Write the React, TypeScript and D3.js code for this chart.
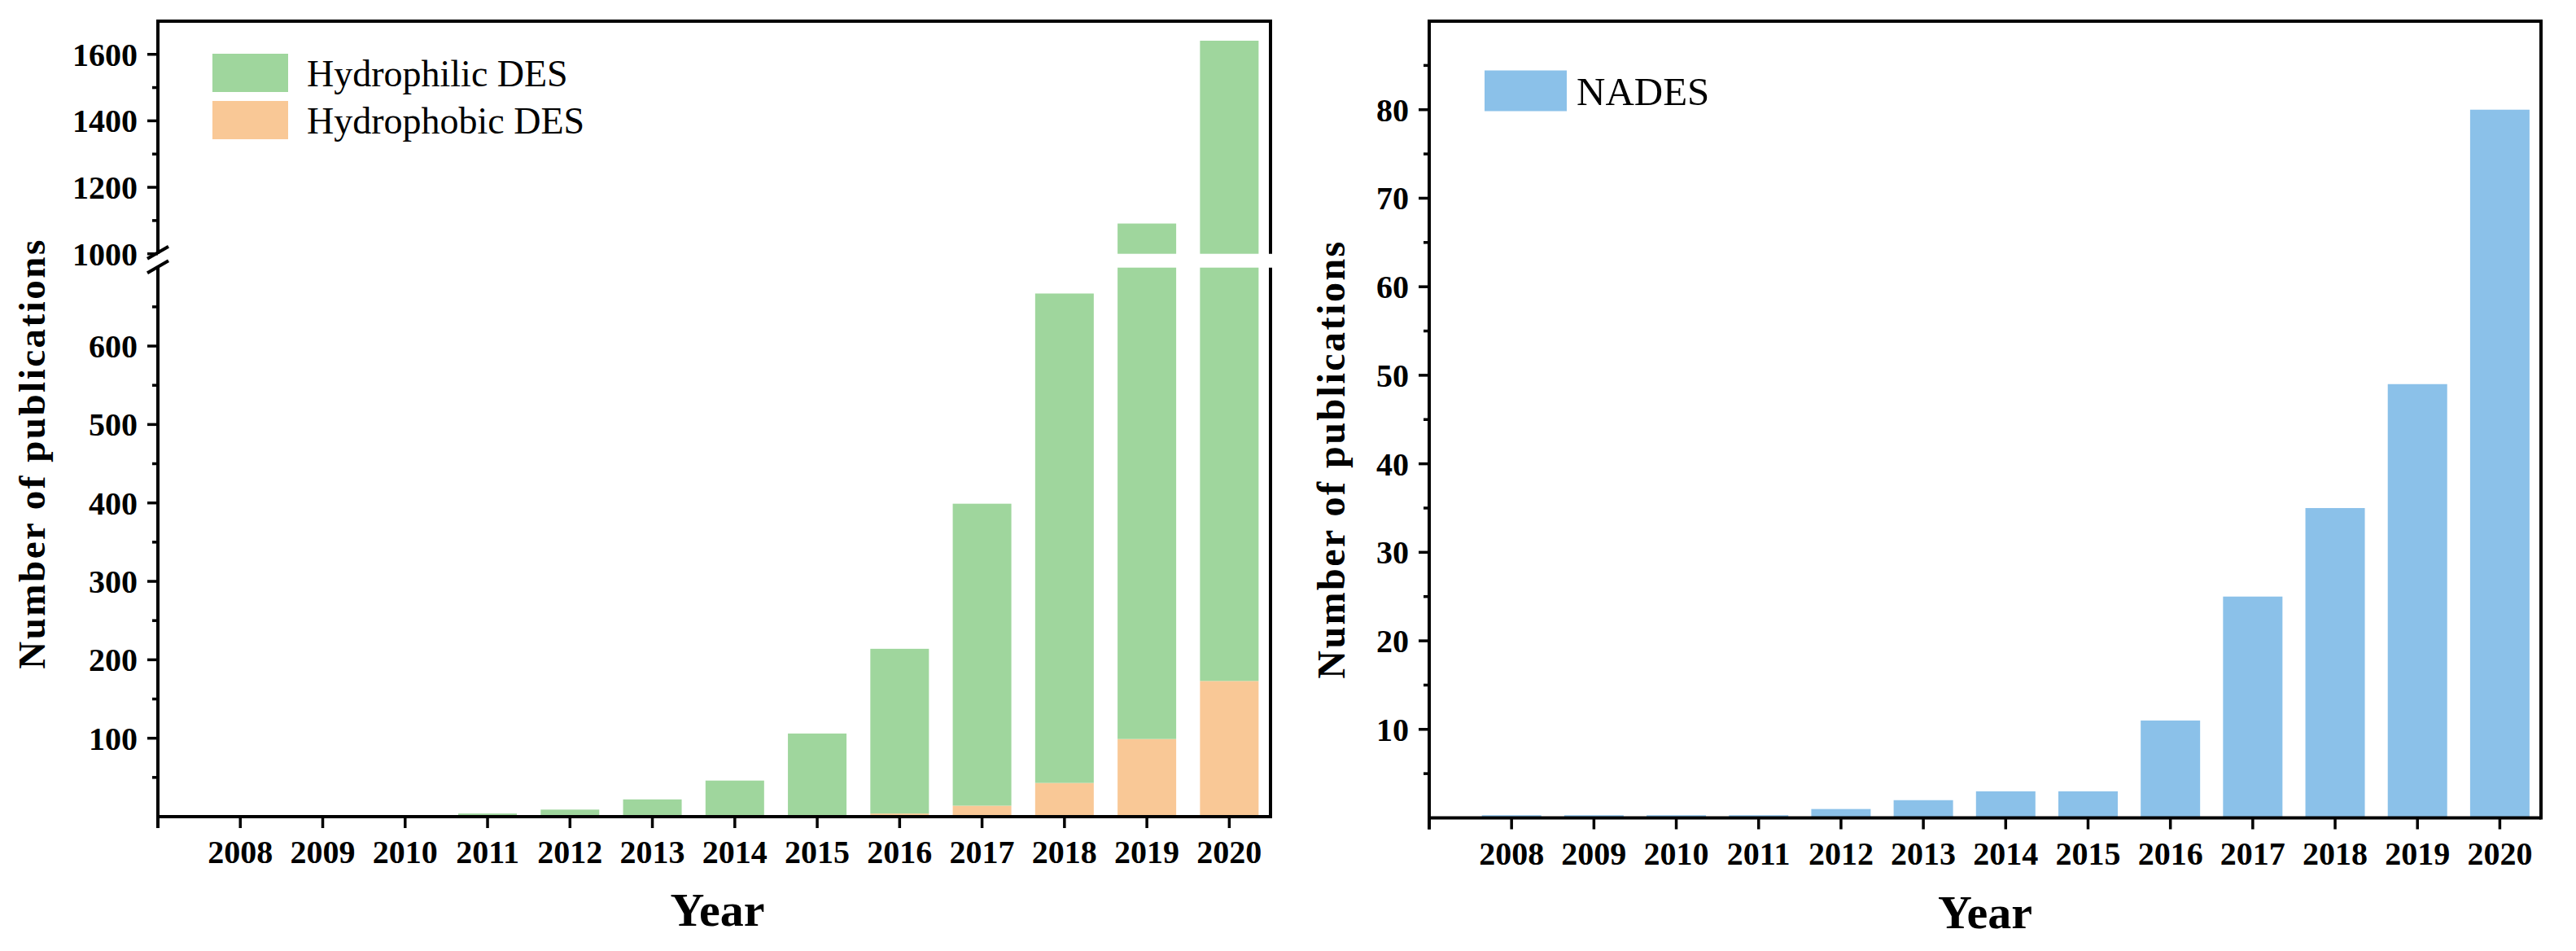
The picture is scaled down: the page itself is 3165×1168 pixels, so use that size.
import React, { useMemo } from "react";
import * as d3 from "d3";

// data
const YEARS = [2008, 2009, 2010, 2011, 2012, 2013, 2014, 2015, 2016, 2017, 2018, 2019, 2020];
const HYDROPHILIC = [0, 0, 0, 4, 9, 22, 46, 106, 210, 385, 624, 992, 1468];
const HYDROPHOBIC = [0, 0, 0, 0, 0, 0, 0, 0, 4, 14, 43, 99, 173];
const NADES = [0.3, 0.3, 0.3, 0.3, 1, 2, 3, 3, 11, 25, 35, 49, 80];

const LEFT_TICKS_LOW = [100, 200, 300, 400, 500, 600];
const LEFT_TICKS_HIGH = [1000, 1200, 1400, 1600];
const LEFT_MINOR_LOW = [50, 150, 250, 350, 450, 550, 650];
const LEFT_MINOR_HIGH = [1100, 1300, 1500];
const RIGHT_TICKS = [10, 20, 30, 40, 50, 60, 70, 80];
const RIGHT_MINOR = [5, 15, 25, 35, 45, 55, 65, 75, 85];

const LEGEND_LEFT = ["Hydrophilic DES", "Hydrophobic DES"];
const LEGEND_RIGHT = ["NADES"];

const W = 3165;
const H = 1168;
const FONT = "'Liberation Serif', 'Times New Roman', serif";
const GREEN = "#9fd69d";
const ORANGE = "#f9c896";
const BLUE = "#8bc1e9";
const AXIS_W = 4;
const BAR_W = 72;
const MAJOR = 13;
const MINOR = 7;
const XTICK = 14;

export default function App() {
  const xLeft = useMemo(
    () => d3.scaleLinear().domain([2007, 2020.5]).range([194, 1561]),
    []
  );
  const xRight = useMemo(
    () => d3.scaleLinear().domain([2007, 2020.5]).range([1756, 3122]),
    []
  );
  // broken y axis on the left chart
  const yLow = useMemo(
    () => d3.scaleLinear().domain([0, 700]).range([1003, 328.7]),
    []
  );
  const yHigh = useMemo(
    () => d3.scaleLinear().domain([1000, 1700]).range([311.7, 25.9]),
    []
  );
  const yRight = useMemo(
    () => d3.scaleLinear().domain([0, 90]).range([1004.5, 26]),
    []
  );

  const rows = YEARS.map((year, i) => ({
    year,
    hydrophobic: HYDROPHOBIC[i],
    hydrophilic: HYDROPHILIC[i],
  }));
  const stacked = d3
    .stack<(typeof rows)[number]>()
    .keys(["hydrophobic", "hydrophilic"])(rows);

  const pieces: { x: number; y: number; h: number; fill: string; key: string }[] = [];
  stacked.forEach((s) => {
    const fill = s.key === "hydrophobic" ? ORANGE : GREEN;
    s.forEach((d) => {
      const [v0, v1] = d;
      const cx = xLeft(d.data.year);
      const lo = Math.max(v0, 0);
      const hi = Math.min(v1, 700);
      if (hi > lo)
        pieces.push({ x: cx, y: yLow(hi), h: yLow(lo) - yLow(hi), fill, key: `${s.key}-l-${d.data.year}` });
      const lo2 = Math.max(v0, 1000);
      const hi2 = Math.min(v1, 1700);
      if (hi2 > lo2)
        pieces.push({ x: cx, y: yHigh(hi2), h: yHigh(lo2) - yHigh(hi2), fill, key: `${s.key}-h-${d.data.year}` });
    });
  });

  const [lx0, lx1] = xLeft.range();
  const [rx0, rx1] = xRight.range();
  const lBottom = yLow(0);
  const lTop = yHigh(1700);
  const rBottom = yRight(0);
  const rTop = yRight(90);
  const breakHi = yHigh(1000);
  const breakLo = yLow(700);

  const tickLabel = {
    fontFamily: FONT,
    fontWeight: 700,
    fontSize: 40,
    fill: "#000",
  } as const;

  const yTicks = (x0: number, y: (v: number) => number, major: number[], minor: number[]) => (
    <g>
      {major.map((v) => (
        <g key={`M${v}`}>
          <line x1={x0 - MAJOR} x2={x0} y1={y(v)} y2={y(v)} stroke="#000" strokeWidth={3.5} />
          <text x={x0 - MAJOR - 12} y={y(v)} dy="0.35em" textAnchor="end" {...tickLabel}>
            {v}
          </text>
        </g>
      ))}
      {minor.map((v) => (
        <line key={`m${v}`} x1={x0 - MINOR} x2={x0} y1={y(v)} y2={y(v)} stroke="#000" strokeWidth={3.5} />
      ))}
    </g>
  );

  const xTicks = (x: d3.ScaleLinear<number, number>, y0: number) => (
    <g>
      {[2007, ...YEARS].map((yr) => (
        <line key={yr} x1={x(yr)} x2={x(yr)} y1={y0} y2={y0 + XTICK} stroke="#000" strokeWidth={3.5} />
      ))}
      {YEARS.map((yr) => (
        <text key={`t${yr}`} x={x(yr)} y={y0 + 57} textAnchor="middle" {...tickLabel}>
          {yr}
        </text>
      ))}
    </g>
  );

  const slash = (cx: number, cy: number) => (
    <line x1={cx - 13} y1={cy + 7.5} x2={cx + 13} y2={cy - 7.5} stroke="#000" strokeWidth={4} />
  );

  return (
    <svg
      width={W}
      height={H}
      style={{ position: "absolute", left: 0, top: 0, background: "#fff" }}
    >
      {/* ---------- left chart: DES ---------- */}
      <g>
        {pieces.map((p) => (
          <rect key={p.key} x={p.x - BAR_W / 2} y={p.y} width={BAR_W} height={p.h} fill={p.fill} />
        ))}

        {/* frame with break */}
        <line x1={lx0} x2={lx1} y1={lTop} y2={lTop} stroke="#000" strokeWidth={AXIS_W} />
        <line x1={lx0} x2={lx0} y1={lTop - 2} y2={breakHi} stroke="#000" strokeWidth={AXIS_W} />
        <line x1={lx0} x2={lx0} y1={breakLo} y2={lBottom + XTICK} stroke="#000" strokeWidth={AXIS_W} />
        <line x1={lx1} x2={lx1} y1={lTop - 2} y2={breakHi} stroke="#000" strokeWidth={AXIS_W} />
        <line x1={lx1} x2={lx1} y1={breakLo} y2={lBottom + 2} stroke="#000" strokeWidth={AXIS_W} />
        <line x1={lx0} x2={lx1} y1={lBottom} y2={lBottom} stroke="#000" strokeWidth={AXIS_W} />
        {slash(lx0, breakHi - 1.5)}
        {slash(lx0, breakLo - 1)}

        {yTicks(lx0, yLow, LEFT_TICKS_LOW, LEFT_MINOR_LOW)}
        {yTicks(lx0, yHigh, LEFT_TICKS_HIGH, LEFT_MINOR_HIGH)}
        {xTicks(xLeft, lBottom)}

        {/* legend */}
        {LEGEND_LEFT.map((name, i) => (
          <g key={name} transform={`translate(261, ${66 + i * 58})`}>
            <rect width={93} height={47} fill={i === 0 ? GREEN : ORANGE} />
            <text x={116} y={23.5} dy="0.35em" fontFamily={FONT} fontSize={46} fill="#000">
              {name}
            </text>
          </g>
        ))}

        <text x={(lx0 + lx1) / 2 + 4} y={1137} textAnchor="middle" fontFamily={FONT} fontWeight={700} fontSize={58}>
          Year
        </text>
        <text
          transform="translate(55, 557) rotate(-90)"
          textAnchor="middle"
          fontFamily={FONT}
          fontWeight={700}
          fontSize={47}
          letterSpacing={2.5}
        >
          Number of publications
        </text>
      </g>

      {/* ---------- right chart: NADES ---------- */}
      <g>
        {YEARS.map((yr, i) => (
          <rect
            key={yr}
            x={xRight(yr) - 36.5}
            y={yRight(NADES[i])}
            width={73}
            height={rBottom - yRight(NADES[i])}
            fill={BLUE}
          />
        ))}

        <line x1={rx0} x2={rx1} y1={rTop} y2={rTop} stroke="#000" strokeWidth={AXIS_W} />
        <line x1={rx0} x2={rx0} y1={rTop - 2} y2={rBottom + XTICK} stroke="#000" strokeWidth={AXIS_W} />
        <line x1={rx1} x2={rx1} y1={rTop - 2} y2={rBottom + 2} stroke="#000" strokeWidth={AXIS_W} />
        <line x1={rx0} x2={rx1} y1={rBottom} y2={rBottom} stroke="#000" strokeWidth={AXIS_W} />

        {yTicks(rx0, yRight, RIGHT_TICKS, RIGHT_MINOR)}
        {xTicks(xRight, rBottom)}

        {LEGEND_RIGHT.map((name) => (
          <g key={name} transform="translate(1824, 86.5)">
            <rect width={101} height={50} fill={BLUE} />
            <text x={113} y={25} dy="0.35em" fontFamily={FONT} fontSize={49} fill="#000">
              {name}
            </text>
          </g>
        ))}

        <text x={(rx0 + rx1) / 2} y={1140} textAnchor="middle" fontFamily={FONT} fontWeight={700} fontSize={58}>
          Year
        </text>
        <text
          transform="translate(1652, 564) rotate(-90)"
          textAnchor="middle"
          fontFamily={FONT}
          fontWeight={700}
          fontSize={48}
          letterSpacing={2.5}
        >
          Number of publications
        </text>
      </g>
    </svg>
  );
}
